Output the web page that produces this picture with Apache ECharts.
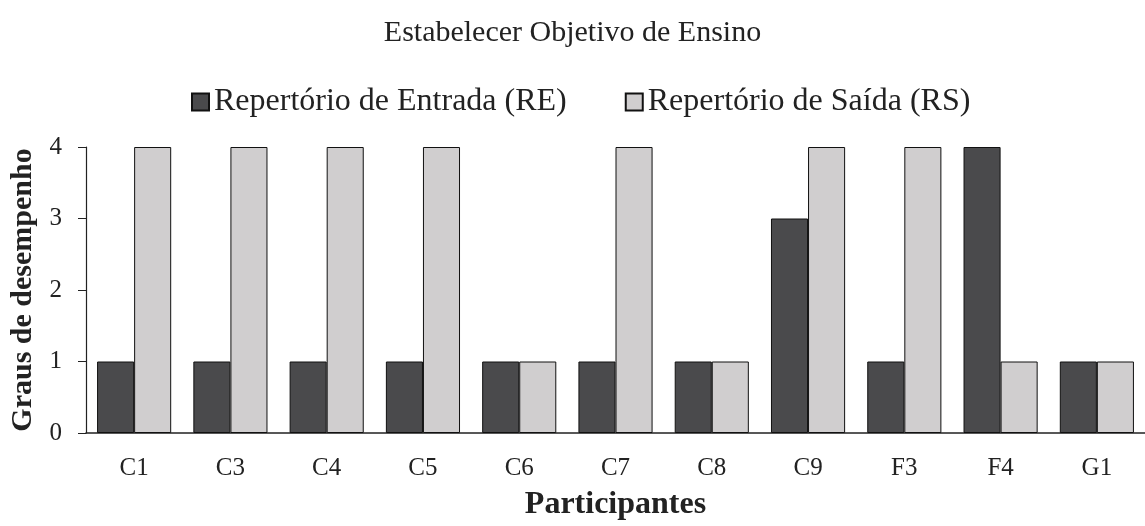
<!DOCTYPE html>
<html>
<head>
<meta charset="utf-8">
<script src="https://cdn.jsdelivr.net/npm/echarts@6/dist/echarts.min.js"></script>
<style>
  html, body { margin: 0; padding: 0; background: #fff; }
  #main { width: 1145px; height: 526px; }
</style>
</head>
<body>
<div id="main"></div>
<script type="text/javascript">
  // dados
  var participantes = ['C1', 'C3', 'C4', 'C5', 'C6', 'C7', 'C8', 'C9', 'F3', 'F4', 'G1'];
  var entrada = [1, 1, 1, 1, 1, 1, 1, 3, 1, 4, 1];
  var saida = [4, 4, 4, 4, 1, 4, 1, 4, 4, 1, 1];

  var fonte = '"Liberation Serif", "DejaVu Serif", serif';
  var chart = echarts.init(document.getElementById('main'));

  chart.setOption({
    animation: false,
    textStyle: { fontFamily: fonte, color: '#222' },
    title: {
      text: 'Estabelecer Objetivo de Ensino',
      left: 'center',
      top: 13,
      textStyle: { fontFamily: fonte, fontSize: 30, fontWeight: 'normal', color: '#222' }
    },
    legend: {
      top: 81,
      left: 186,
      itemGap: 58,
      itemWidth: 17,
      itemHeight: 17,
      icon: 'rect',
      textStyle: { fontFamily: fonte, fontSize: 32, color: '#222' },
      data: ['Repertório de Entrada (RE)', 'Repertório de Saída (RS)']
    },
    grid: { left: 86, right: -8, top: 147, bottom: 89 },
    xAxis: {
      type: 'category',
      data: participantes,
      name: 'Participantes',
      nameLocation: 'middle',
      nameGap: 56,
      nameTextStyle: { fontFamily: fonte, fontSize: 32, fontWeight: 'bold', color: '#222' },
      axisLine: { lineStyle: { color: '#222', width: 1.5 } },
      axisTick: { length: 7, lineStyle: { color: '#222' } },
      axisLabel: { fontFamily: fonte, fontSize: 25, color: '#222', margin: 23 }
    },
    yAxis: {
      type: 'value',
      min: 0,
      max: 4,
      interval: 1,
      name: 'Graus de desempenho',
      nameLocation: 'middle',
      nameGap: 45,
      nameTextStyle: { fontFamily: fonte, fontSize: 30, fontWeight: 'bold', color: '#222' },
      splitLine: { show: false },
      axisLine: { show: true, lineStyle: { color: '#222', width: 1.2 } },
      axisTick: { show: true, length: 8, lineStyle: { color: '#222' } },
      axisLabel: { fontFamily: fonte, fontSize: 25, color: '#222', margin: 24 }
    },
    series: [
      {
        name: 'Repertório de Entrada (RE)',
        type: 'bar',
        data: entrada,
        barGap: '0%',
        barCategoryGap: '23%',
        itemStyle: { color: '#4a4a4c', borderColor: '#111', borderWidth: 1 }
      },
      {
        name: 'Repertório de Saída (RS)',
        type: 'bar',
        data: saida,
        itemStyle: { color: '#d0cecf', borderColor: '#111', borderWidth: 1 }
      }
    ]
  });
</script>
</body>
</html>
